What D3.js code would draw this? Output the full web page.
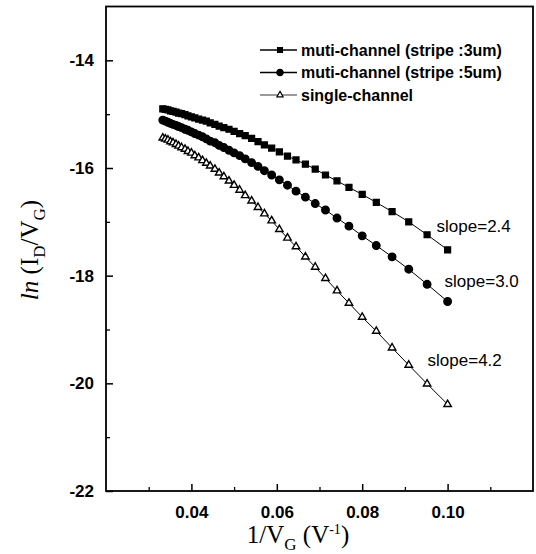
<!DOCTYPE html>
<html>
<head>
<meta charset="utf-8">
<script src="https://cdn.jsdelivr.net/npm/d3@7"></script>
<style>
  body { margin: 0; background: #fff; }
  svg { display: block; }
  .tick-label { font-family: "Liberation Sans", Arial, sans-serif; font-size: 17px; font-weight: bold; fill: #000; }
  .legend-text { font-family: "Liberation Sans", Arial, sans-serif; font-size: 16px; font-weight: bold; fill: #000; }
  .slope-text { font-family: "Liberation Sans", Arial, sans-serif; font-size: 17px; fill: #000; }
  .axis-title { font-family: "Liberation Serif", "Times New Roman", serif; font-size: 25px; fill: #000; }
</style>
</head>
<body>
<svg id="chart"></svg>
<script>
"use strict";

// 1/VG values (V^-1), VG from 30 V down to 10 V
let invVG = [0.0333, 0.0339, 0.0345, 0.0351, 0.0357, 0.0364, 0.0370, 0.0377, 0.0385, 0.0392,
  0.0400, 0.0408, 0.0417, 0.0426, 0.0435, 0.0444, 0.0455, 0.0465, 0.0476, 0.0488,
  0.0500, 0.0513, 0.0526, 0.0541, 0.0556, 0.0571, 0.0588, 0.0606, 0.0625, 0.0645,
  0.0667, 0.0690, 0.0714, 0.0741, 0.0769, 0.0800, 0.0833, 0.0870, 0.0909, 0.0952, 0.1000];

// ln(ID/VG)
let stripe3um = [-14.90, -14.91, -14.92, -14.94, -14.95, -14.96, -14.98, -14.99, -15.01, -15.03,
  -15.05, -15.07, -15.09, -15.11, -15.13, -15.16, -15.19, -15.22, -15.25, -15.28,
  -15.32, -15.36, -15.40, -15.45, -15.51, -15.57, -15.63, -15.70, -15.78, -15.85,
  -15.93, -16.02, -16.13, -16.24, -16.36, -16.49, -16.64, -16.81, -17.00, -17.24, -17.52];

let stripe5um = [-15.11, -15.13, -15.15, -15.17, -15.19, -15.21, -15.23, -15.25, -15.28, -15.30,
  -15.33, -15.36, -15.39, -15.42, -15.46, -15.50, -15.53, -15.58, -15.62, -15.67,
  -15.72, -15.77, -15.83, -15.90, -15.97, -16.05, -16.13, -16.22, -16.32, -16.43,
  -16.54, -16.66, -16.78, -16.93, -17.08, -17.26, -17.44, -17.65, -17.88, -18.16, -18.48];

let singleChannel = [-15.44, -15.46, -15.48, -15.51, -15.53, -15.56, -15.59, -15.62, -15.65, -15.69,
  -15.72, -15.77, -15.81, -15.86, -15.91, -15.96, -16.02, -16.09, -16.16, -16.24,
  -16.32, -16.41, -16.51, -16.61, -16.73, -16.85, -16.98, -17.14, -17.30, -17.46,
  -17.65, -17.84, -18.05, -18.28, -18.51, -18.77, -19.03, -19.34, -19.66, -20.01, -20.39];

let seriesNames = ['muti-channel (stripe :3um)', 'muti-channel (stripe :5um)', 'single-channel'];
let slopeLabels = ['slope=2.4', 'slope=3.0', 'slope=4.2'];

let xTicks = [0.04, 0.06, 0.08, 0.10];
let xMinorTicks = [0.03, 0.05, 0.07, 0.09, 0.11];
let yTicks = [-14, -16, -18, -20, -22];
let yMinorTicks = [-15, -17, -19, -21];

(function () {
  let width = 536;
  let height = 554;
  let margin = { top: 6.5, right: 3, bottom: 63, left: 106 };

  let svg = d3.select('#chart')
    .attr('width', width)
    .attr('height', height);

  let xScale = d3.scaleLinear()
    .domain([0.02, 0.12])
    .range([margin.left, width - margin.right]);

  let yScale = d3.scaleLinear()
    .domain([-22, -13])
    .range([height - margin.bottom, margin.top]);

  let series = [
    { name: seriesNames[0], values: stripe3um, symbol: d3.symbolSquare, size: 34, fill: '#000' },
    { name: seriesNames[1], values: stripe5um, symbol: d3.symbolCircle, size: 44, fill: '#000' },
    { name: seriesNames[2], values: singleChannel, symbol: d3.symbolTriangle, size: 24, fill: '#fff' }
  ];

  let line = d3.line()
    .x(function (d) { return xScale(d[0]); })
    .y(function (d) { return yScale(d[1]); });

  // lines + markers
  series.forEach(function (s) {
    let pts = invVG.map(function (x, i) { return [x, s.values[i]]; });

    svg.append('path')
      .datum(pts)
      .attr('d', line)
      .attr('fill', 'none')
      .attr('stroke', '#000')
      .attr('stroke-width', 1);

    svg.append('g').selectAll('path')
      .data(pts)
      .enter()
      .append('path')
      .attr('d', d3.symbol().type(s.symbol).size(s.size))
      .attr('transform', function (d) {
        return 'translate(' + xScale(d[0]) + ',' + yScale(d[1]) + ')';
      })
      .attr('fill', s.fill)
      .attr('stroke', '#000')
      .attr('stroke-width', 1.4);
  });

  // frame
  svg.append('rect')
    .attr('x', xScale(0.02))
    .attr('y', yScale(-13))
    .attr('width', xScale(0.12) - xScale(0.02))
    .attr('height', yScale(-22) - yScale(-13))
    .attr('fill', 'none')
    .attr('stroke', '#000')
    .attr('stroke-width', 1.8);

  // bottom axis, ticks inward
  let xAxis = d3.axisBottom(xScale)
    .tickValues(xTicks)
    .tickSizeInner(-7)
    .tickSizeOuter(0)
    .tickPadding(15)
    .tickFormat(d3.format('.2f'));

  let gx = svg.append('g')
    .attr('transform', 'translate(0,' + yScale(-22) + ')')
    .call(xAxis);
  gx.select('.domain').remove();
  gx.selectAll('.tick line').attr('stroke-width', 1.5);
  gx.selectAll('.tick text').attr('class', 'tick-label').attr('font-family', null).attr('font-size', null);

  let gxMinor = svg.append('g')
    .attr('transform', 'translate(0,' + yScale(-22) + ')')
    .call(d3.axisBottom(xScale).tickValues(xMinorTicks).tickSizeInner(-4).tickSizeOuter(0).tickFormat(''));
  gxMinor.select('.domain').remove();
  gxMinor.selectAll('.tick line').attr('stroke-width', 1.3);

  // left axis, ticks inward
  let yAxis = d3.axisLeft(yScale)
    .tickValues(yTicks)
    .tickSizeInner(-7)
    .tickSizeOuter(0)
    .tickPadding(12);

  let gy = svg.append('g')
    .attr('transform', 'translate(' + xScale(0.02) + ',0)')
    .call(yAxis);
  gy.select('.domain').remove();
  gy.selectAll('.tick line').attr('stroke-width', 1.5);
  gy.selectAll('.tick text').attr('class', 'tick-label').attr('font-family', null).attr('font-size', null)
    .text(function (d) { return '-' + Math.abs(d); });

  let gyMinor = svg.append('g')
    .attr('transform', 'translate(' + xScale(0.02) + ',0)')
    .call(d3.axisLeft(yScale).tickValues(yMinorTicks).tickSizeInner(-4).tickSizeOuter(0).tickFormat(''));
  gyMinor.select('.domain').remove();
  gyMinor.selectAll('.tick line').attr('stroke-width', 1.3);

  // legend
  let legend = svg.append('g').attr('transform', 'translate(260,50)');
  series.forEach(function (s, i) {
    let row = legend.append('g').attr('transform', 'translate(0,' + (i * 22.5) + ')');
    row.append('line')
      .attr('x1', 0).attr('x2', 37)
      .attr('stroke', '#000')
      .attr('stroke-width', i === 2 ? 0.8 : 1.4);
    row.append('path')
      .attr('d', d3.symbol().type(s.symbol).size(s.size * 0.7))
      .attr('transform', 'translate(20,0)')
      .attr('fill', s.fill)
      .attr('stroke', '#000')
      .attr('stroke-width', 1.2);
    row.append('text')
      .attr('class', 'legend-text')
      .attr('x', 41)
      .attr('dy', '0.36em')
      .text(s.name);
  });

  // slope annotations, placed next to the last point of each curve
  let slopeOffsets = [[-11, -18], [-3, -15], [-20, -38]];
  series.forEach(function (s, i) {
    let last = s.values[s.values.length - 1];
    svg.append('text')
      .attr('class', 'slope-text')
      .attr('x', xScale(invVG[invVG.length - 1]) + slopeOffsets[i][0])
      .attr('y', yScale(last) + slopeOffsets[i][1])
      .text(slopeLabels[i]);
  });

  // axis titles
  let xt = svg.append('text')
    .attr('class', 'axis-title')
    .attr('x', 298)
    .attr('y', 543)
    .attr('text-anchor', 'middle');
  xt.append('tspan').text('1/V');
  xt.append('tspan').attr('dy', 7).attr('font-size', 17).text('G');
  xt.append('tspan').attr('dy', -7).text(' (V');
  xt.append('tspan').attr('dy', -9).attr('font-size', 14).text('-1');
  xt.append('tspan').attr('dy', 9).text(')');

  let yt = svg.append('text')
    .attr('class', 'axis-title')
    .attr('transform', 'translate(38,250) rotate(-90)')
    .attr('text-anchor', 'middle');
  yt.append('tspan').attr('font-style', 'italic').text('ln');
  yt.append('tspan').text(' (I');
  yt.append('tspan').attr('dy', 7).attr('font-size', 17).text('D');
  yt.append('tspan').attr('dy', -7).text('/V');
  yt.append('tspan').attr('dy', 7).attr('font-size', 17).text('G');
  yt.append('tspan').attr('dy', -7).text(')');
})();
</script>
</body>
</html>
